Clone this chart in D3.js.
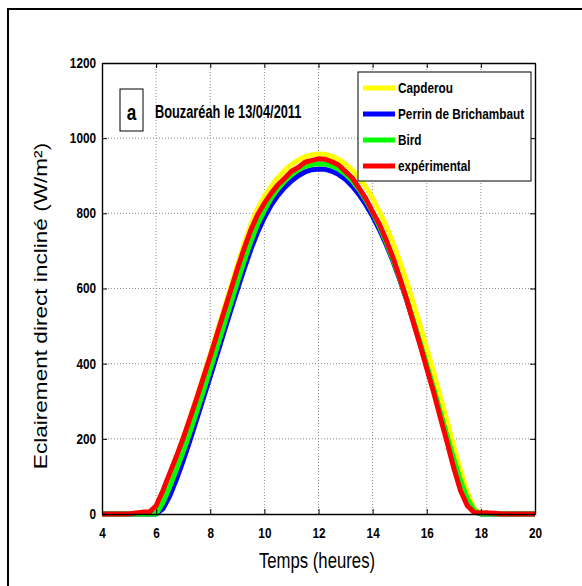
<!DOCTYPE html>
<html lang="fr">

<head>
    <meta charset="UTF-8" />
    <title>Eclairement direct incliné - Bouzaréah</title>
    <script src="https://cdn.jsdelivr.net/npm/d3@7"></script>
    <style>
        body { margin: 0; background: #fff; }
        text { font-family: "Liberation Sans", Arial, sans-serif; }
    </style>
</head>

<body>
    <div id="chart"></div>

    <script>
        // time of day (heures), one point every quarter hour
        const hours = [4, 4.25, 4.5, 4.75, 5, 5.25, 5.5, 5.75, 6, 6.25, 6.5, 6.75, 7, 7.25, 7.5, 7.75,
            8, 8.25, 8.5, 8.75, 9, 9.25, 9.5, 9.75, 10, 10.25, 10.5, 10.75, 11, 11.25, 11.5, 11.75,
            12, 12.25, 12.5, 12.75, 13, 13.25, 13.5, 13.75, 14, 14.25, 14.5, 14.75, 15, 15.25, 15.5, 15.75,
            16, 16.25, 16.5, 16.75, 17, 17.25, 17.5, 17.75, 18, 18.25, 18.5, 18.75, 19, 19.25, 19.5, 19.75, 20];

        // W/m²
        const capderou = [0, 0, 0, 0, 0, 0, 0, 0, 12, 58, 104, 152, 202, 255, 310, 367,
            425, 484, 543, 602, 661, 718, 770, 812, 845, 872, 895, 914, 930, 942, 951, 956,
            958, 957, 952, 943, 931, 915, 895, 870, 840, 805, 766, 722, 673, 620, 563, 503,
            441, 378, 313, 247, 180, 115, 57, 15, 0, 0, 0, 0, 0, 0, 0, 0, 0];
        const perrin = [0, 0, 0, 0, 0, 0, 0, 0, 0, 14, 48, 92, 142, 196, 252, 309,
            366, 424, 482, 540, 597, 652, 704, 750, 789, 822, 848, 869, 886, 900, 910, 916,
            918, 917, 912, 903, 890, 872, 850, 823, 792, 757, 717, 673, 624, 571, 514, 455,
            394, 332, 268, 204, 141, 82, 34, 7, 0, 0, 0, 0, 0, 0, 0, 0, 0];
        const bird = [0, 0, 0, 0, 0, 0, 0, 0, 0, 30, 72, 118, 166, 218, 272, 328,
            385, 443, 501, 559, 616, 672, 725, 771, 808, 840, 865, 886, 903, 916, 925, 930,
            932, 931, 926, 917, 904, 886, 863, 835, 802, 765, 723, 677, 627, 573, 516, 457,
            396, 334, 271, 208, 146, 88, 40, 10, 0, 0, 0, 0, 0, 0, 0, 0, 0];
        const experimental = [0, 0, 0, 0, 0, 3, 5, 5, 22, 62, 108, 153, 202, 254, 308, 364,
            420, 478, 536, 594, 652, 706, 756, 796, 827, 853, 876, 893, 912, 922, 936, 941,
            945, 944, 937, 928, 911, 894, 867, 839, 804, 771, 729, 683, 629, 573, 511, 451,
            387, 325, 257, 191, 122, 62, 22, 4, 3, 3, 2, 0, 0, 0, 0, 0, 0];

        const seriesNames = ["Capderou", "Perrin de Brichambaut", "Bird", "expérimental"];
        const seriesColors = ["#ffff00", "#0000ff", "#00ff00", "#ff0000"];
        const seriesValues = [capderou, perrin, bird, experimental];

        const xTicks = [4, 6, 8, 10, 12, 14, 16, 18, 20];
        const yTicks = [0, 200, 400, 600, 800, 1000, 1200];

        const W = 582, H = 586;
        const margin = { top: 63, right: 47, bottom: 72, left: 102 },
            width = W - margin.left - margin.right,
            height = H - margin.top - margin.bottom;

        // the original figure is squeezed sideways, so text is narrowed
        function narrow(sel, k = 0.84) {
            sel.each(function () {
                const len = this.getComputedTextLength();
                d3.select(this).attr("textLength", len * k).attr("lengthAdjust", "spacingAndGlyphs");
            });
        }

        const root = d3.select("#chart")
            .append("svg")
            .attr("width", W)
            .attr("height", H);

        root.append("rect").attr("width", W).attr("height", H).attr("fill", "#fff");

        // outer frame (only left and top edges are in the picture)
        root.append("path")
            .attr("d", `M8,${H} V9 H${W}`)
            .attr("fill", "none")
            .attr("stroke", "#000")
            .attr("stroke-width", 2);

        const svg = root.append("g")
            .attr("transform", `translate(${margin.left},${margin.top})`);

        const x = d3.scaleLinear().domain([4, 20]).range([0, width]);
        const y = d3.scaleLinear().domain([0, 1200]).range([height, 0]);

        // dotted grid
        const grid = svg.append("g")
            .attr("stroke", "#8a8a8a")
            .attr("stroke-width", 1)
            .attr("stroke-dasharray", "1,2");
        grid.selectAll(".gx")
            .data(xTicks.slice(1, -1))
            .join("line")
            .attr("x1", d => x(d)).attr("x2", d => x(d))
            .attr("y1", 0).attr("y2", height);
        grid.selectAll(".gy")
            .data(yTicks.slice(1, -1))
            .join("line")
            .attr("x1", 0).attr("x2", width)
            .attr("y1", d => y(d)).attr("y2", d => y(d));

        // curves, drawn in legend order so the measurement ends on top
        const line = d3.line()
            .x((d, i) => x(hours[i]))
            .y(d => y(d));

        svg.append("g")
            .selectAll("path")
            .data(seriesValues)
            .join("path")
            .attr("d", d => line(d))
            .attr("fill", "none")
            .attr("stroke", (d, i) => seriesColors[i])
            .attr("stroke-width", 5)
            .attr("stroke-linejoin", "round")
            .attr("stroke-linecap", "butt");

        // axes with inward ticks on all four sides
        const fmt = d3.format("d");
        const xAxis = svg.append("g")
            .attr("transform", `translate(0,${height})`)
            .call(d3.axisBottom(x).tickValues(xTicks).tickFormat(fmt).tickSize(-5).tickSizeOuter(0).tickPadding(14));
        svg.append("g")
            .call(d3.axisTop(x).tickValues(xTicks).tickSize(-5).tickSizeOuter(0).tickFormat(""));
        const yAxis = svg.append("g")
            .call(d3.axisLeft(y).tickValues(yTicks).tickFormat(fmt).tickSize(-5).tickSizeOuter(0).tickPadding(6));
        svg.append("g")
            .attr("transform", `translate(${width},0)`)
            .call(d3.axisRight(y).tickValues(yTicks).tickSize(-5).tickSizeOuter(0).tickFormat(""));

        svg.selectAll(".domain").attr("stroke", "#000").attr("stroke-width", 1.4);
        svg.selectAll(".tick line").attr("stroke", "#000");

        [xAxis, yAxis].forEach(a => a.selectAll("text")
            .attr("font-family", "Liberation Sans, Arial, sans-serif")
            .attr("font-size", 14)
            .attr("font-weight", "bold")
            .attr("fill", "#000")
            .call(narrow));

        // axis titles
        root.append("text")
            .attr("x", 317)
            .attr("y", 568)
            .attr("text-anchor", "middle")
            .attr("font-size", 22)
            .text("Temps (heures)")
            .call(narrow, 0.76);

        root.append("text")
            .attr("transform", "translate(47,306) rotate(-90) scale(1,0.84)")
            .attr("text-anchor", "middle")
            .attr("font-size", 22.6)
            .text("Eclairement direct incliné (W/m²)");

        // "a" tag and date
        root.append("rect")
            .attr("x", 120).attr("y", 89)
            .attr("width", 23).attr("height", 42)
            .attr("fill", "#fff")
            .attr("stroke", "#000")
            .attr("stroke-width", 1);
        root.append("text")
            .attr("x", 131.5).attr("y", 120)
            .attr("text-anchor", "middle")
            .attr("font-size", 22)
            .attr("font-weight", "bold")
            .text("a")
            .call(narrow, 0.78);
        root.append("text")
            .attr("x", 155).attr("y", 118)
            .attr("font-size", 18)
            .attr("font-weight", "bold")
            .text("Bouzaréah le 13/04/2011")
            .call(narrow, 0.71);

        // legend
        const legend = root.append("g");
        legend.append("rect")
            .attr("x", 358).attr("y", 72)
            .attr("width", 173).attr("height", 109)
            .attr("fill", "#fff")
            .attr("stroke", "#000")
            .attr("stroke-width", 1);
        const items = legend.selectAll(".item")
            .data(seriesNames)
            .join("g")
            .attr("transform", (d, i) => `translate(363,${88 + i * 26})`);
        items.append("line")
            .attr("x1", 0).attr("x2", 32)
            .attr("stroke", (d, i) => seriesColors[i])
            .attr("stroke-width", 5);
        items.append("text")
            .attr("x", 35)
            .attr("dy", "0.35em")
            .attr("font-size", 14)
            .attr("font-weight", "bold")
            .text(d => d)
            .call(narrow);
    </script>
</body>

</html>
